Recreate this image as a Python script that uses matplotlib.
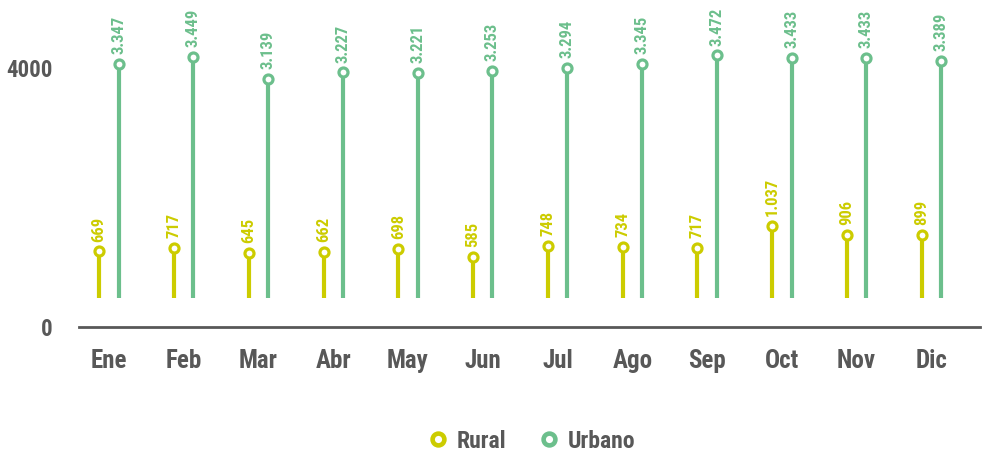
"""Rural vs urbano, lollipop mensual."""
import matplotlib.pyplot as plt
from matplotlib import font_manager as fm
import numpy as np

months = ["Ene", "Feb", "Mar", "Abr", "May", "Jun",
          "Jul", "Ago", "Sep", "Oct", "Nov", "Dic"]
rural = [669, 717, 645, 662, 698, 585, 748, 734, 717, 1037, 906, 899]
urbano = [3347, 3449, 3139, 3227, 3221, 3253, 3294, 3345, 3472, 3433, 3433, 3389]
scale_ticks = [0, 4000]

RURAL_C = "#cccc00"
URBANO_C = "#6cbf8c"
GRAY = "#585858"

# pick a condensed bold face if one is installed
entries = fm.fontManager.ttflist
names = {f.name for f in entries}
FONT, STRETCH = "DejaVu Sans", "normal"
for cand in ["Roboto Condensed", "Liberation Sans Narrow", "Open Sans Condensed",
             "DejaVu Sans Condensed", "Noto Sans Condensed"]:
    if cand in names:
        FONT = cand
        break
else:
    for f in entries:
        if f.name in ("DejaVu Sans", "Roboto", "Noto Sans", "Open Sans") and \
                str(f.stretch) in ("condensed", "semi-condensed", "extra-condensed"):
            FONT, STRETCH = f.name, f.stretch
            break

plt.rcParams["font.family"] = [FONT, "DejaVu Sans"]
plt.rcParams["font.weight"] = "bold"
plt.rcParams["font.stretch"] = STRETCH


def fmt(v):
    return f"{v:,}".replace(",", ".")


fig = plt.figure(figsize=(9.84, 4.57), dpi=100)
W, H = 984, 457
left, right, bottom = 79 / W, 980 / W, (H - 327) / H
ax = fig.add_axes([left, bottom, right - left, 1 - bottom])

x = np.arange(len(months))
off = 0.13
ax.set_xlim(-0.4, len(months) - 0.35)
ax.set_ylim(-415, 4263)

for xs, vals, col in [(x - off, rural, RURAL_C), (x + off, urbano, URBANO_C)]:
    ax.vlines(xs, 0, vals, color=col, lw=3.0, zorder=2)
    ax.plot(xs, vals, "o", ms=6.5, mfc="white", mec=col, mew=2.3, zorder=3)
    for xi, v in zip(xs, vals):
        ax.annotate(fmt(v), (xi, v), xytext=(0, 7), textcoords="offset points",
                    rotation=90, ha="center", va="bottom", color=col,
                    fontsize=12, fontweight="bold", annotation_clip=False)

for s in ["top", "right", "left"]:
    ax.spines[s].set_visible(False)
ax.spines["bottom"].set_color(GRAY)
ax.spines["bottom"].set_linewidth(2)
ax.set_yticks([])
ax.set_xticks(x)
ax.set_xticklabels(months, fontsize=18, color=GRAY, fontweight="bold")
ax.tick_params(axis="x", length=0, pad=16)

# value scale shown on the left
sc = fig.add_axes([left, bottom, right - left, 1 - bottom], frameon=False)
sc.set_ylim(0, 5050)
sc.set_xticks([])
sc.set_yticks(scale_ticks)
sc.set_yticklabels([str(t) for t in scale_ticks], fontsize=16.5, color=GRAY,
                   fontweight="bold")
sc.tick_params(axis="y", length=0, pad=19)
sc.patch.set_visible(False)

# legend
handles = [plt.Line2D([], [], ls="", marker="o", ms=8.5, mfc="white", mec=c, mew=3.3)
           for c in (RURAL_C, URBANO_C)]
fig.legend(handles, ["Rural", "Urbano"], loc="center",
           bbox_to_anchor=(531 / W, 1 - 441 / H),
           ncol=2, frameon=False, handletextpad=0.3, columnspacing=1.3,
           handlelength=1.0,
           prop={"family": [FONT, "DejaVu Sans"], "weight": "bold", "size": 17,
                 "stretch": STRETCH},
           labelcolor=GRAY)

fig.savefig("out.png", dpi=100, facecolor="white")
